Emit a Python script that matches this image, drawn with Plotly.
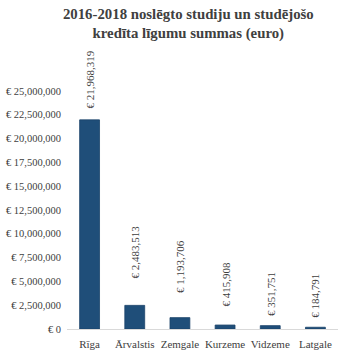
import plotly.graph_objects as go

categories = ["Rīga", "Ārvalstis", "Zemgale", "Kurzeme", "Vidzeme", "Latgale"]
values = [21968319, 2483513, 1193706, 415908, 351751, 184791]
tick_vals = [0, 2500000, 5000000, 7500000, 10000000, 12500000, 15000000,
             17500000, 20000000, 22500000, 25000000]
tick_text = ["€ 0", "€ 2,500,000", "€ 5,000,000", "€ 7,500,000", "€ 10,000,000",
             "€ 12,500,000", "€ 15,000,000", "€ 17,500,000", "€ 20,000,000",
             "€ 22,500,000", "€ 25,000,000"]
labels = ["€ {:,}".format(v) for v in values]
# pixel gap between bar top and label (style)
label_gaps = [9, 25, 23, 16, 8, 8]

FONT = "Liberation Serif, Times New Roman, serif"
GREY = "#404040"

fig = go.Figure(go.Bar(
    x=categories, y=values,
    marker=dict(color="#1f4e79", line=dict(color="#1a4369", width=0.8)),
    cliponaxis=False,
))

for c, v, t, g in zip(categories, values, labels, label_gaps):
    fig.add_annotation(
        x=c, y=v, text=t, textangle=-90, showarrow=False,
        yanchor="bottom", yshift=g,
        font=dict(family=FONT, size=11, color=GREY),
    )

fig.update_layout(
    width=352, height=359,
    margin=dict(l=67, r=14, t=91, b=30),
    paper_bgcolor="white", plot_bgcolor="white",
    bargap=0.56,
    showlegend=False,
    title=dict(
        text="<b>2016-2018 noslēgto studiju un studējošo<br>kredīta līgumu summas (euro)</b>",
        x=0.535, xanchor="center", yref="container", y=0.947, yanchor="top",
        font=dict(family=FONT, size=14.8, color=GREY),
    ),
    font=dict(family=FONT, color=GREY),
)
fig.update_yaxes(
    range=[0, 25000000], tickvals=tick_vals, ticktext=tick_text,
    showgrid=False, zeroline=False, showline=False, ticks="",
    tickfont=dict(family=FONT, size=10.5, color=GREY), ticklabelstandoff=5,
    automargin=False,
)
fig.update_xaxes(
    showgrid=False, showline=True, linecolor="#d9d9d9", linewidth=1, ticks="",
    tickfont=dict(family=FONT, size=11, color=GREY), automargin=False,
    ticklabelstandoff=5,
)

fig.write_html("out.html")
